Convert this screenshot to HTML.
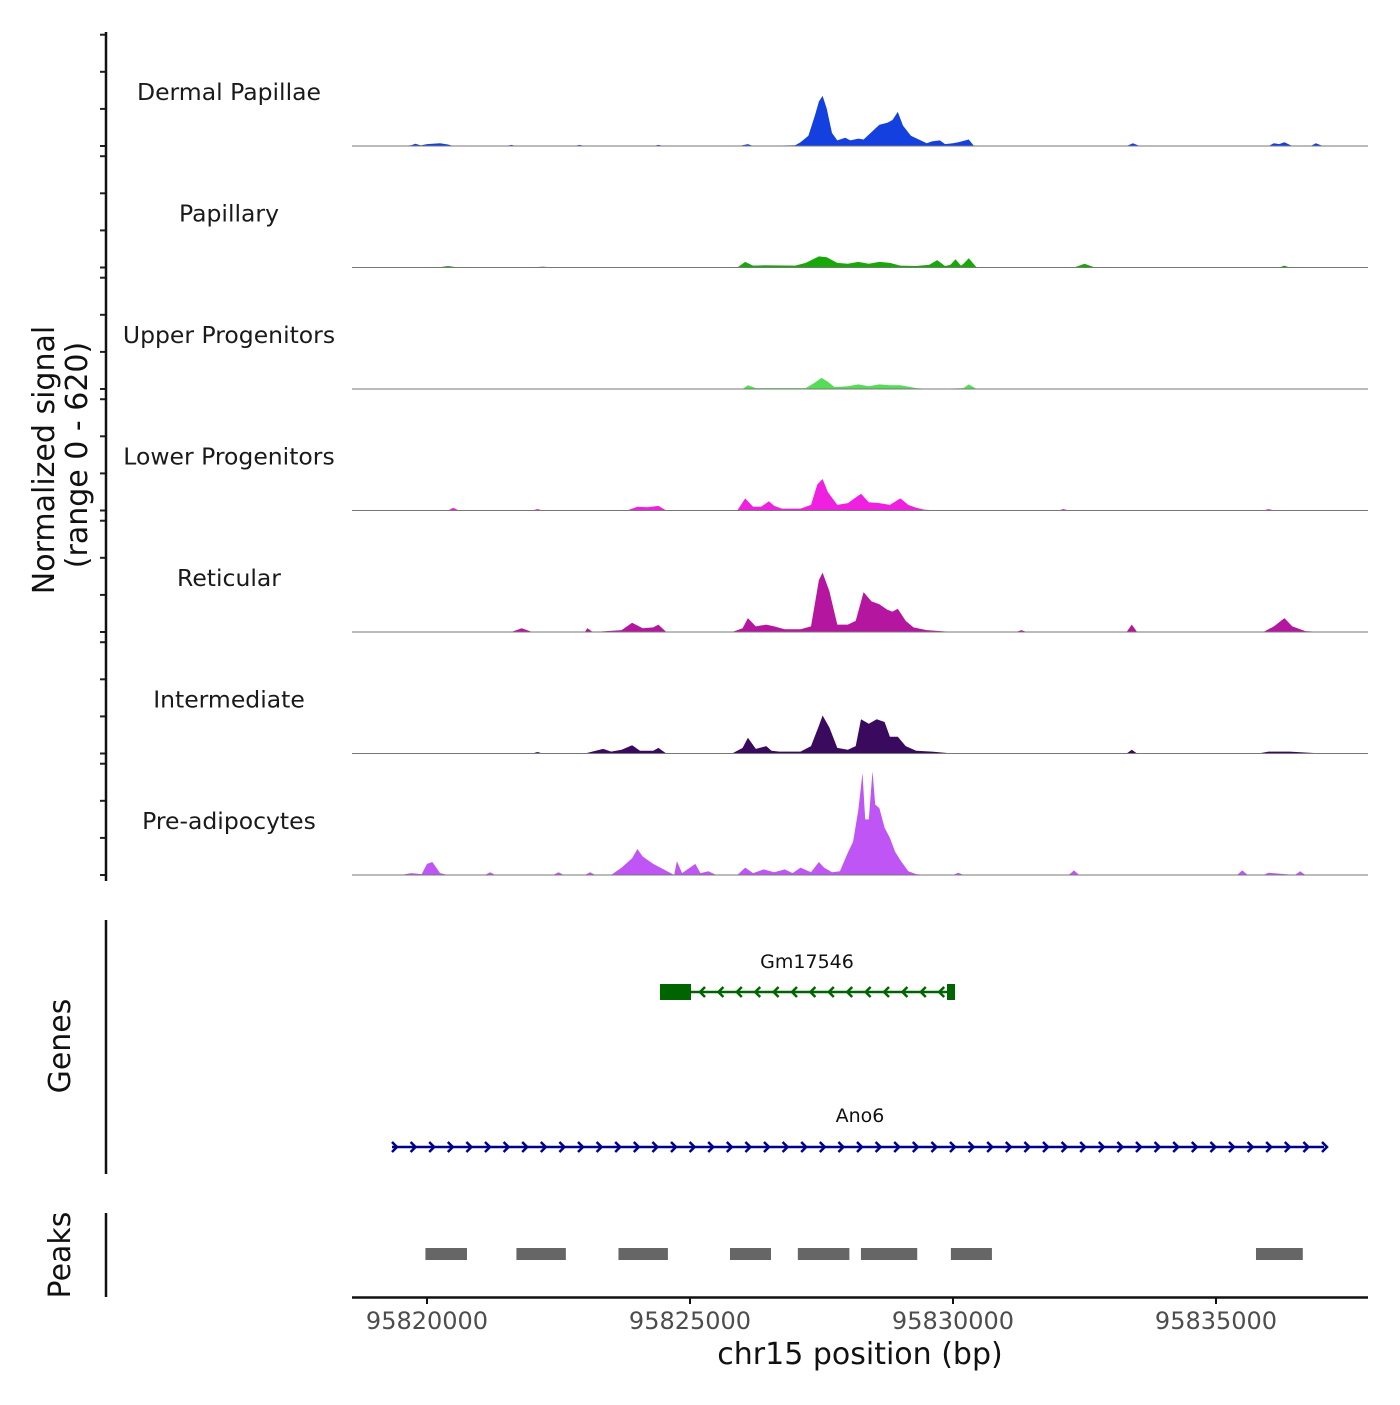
<!DOCTYPE html>
<html><head><meta charset="utf-8"><style>
body{margin:0;background:#fff}
svg text{font-family:"DejaVu Sans","Liberation Sans",sans-serif}
</style></head><body>
<svg id="chart" width="1400" height="1400" viewBox="0 0 1400 1400" xmlns="http://www.w3.org/2000/svg">
<g id="tracks"></g>
<g id="genes"></g>
<g id="peaks"></g>
<g id="axes"></g>
</svg>
<script>
const trackNames=["Dermal Papillae","Papillary","Upper Progenitors","Lower Progenitors","Reticular","Intermediate","Pre-adipocytes"];
const trackColors=["#1540e0","#18a80a","#55dd55","#f020e0","#b5169f","#3a0a5e","#c055f5"];
// positions in kb relative to 95820000, values = normalized signal
const dpPos=[-0.5,-0.3,-0.22,-0.12,0.0,0.1,0.25,0.4,0.5,1.5,1.6,1.7,2.8,2.9,3.0,4.3,4.4,4.5,5.9,6.0,6.1,6.2,7.0,7.1,7.25,7.38,7.45,7.52,7.6,7.7,7.8,7.95,8.05,8.2,8.3,8.45,8.6,8.75,8.85,8.95,9.05,9.2,9.35,9.5,9.6,9.75,9.85,10.0,10.1,10.3,10.4,13.3,13.42,13.55,16.0,16.1,16.2,16.3,16.45,16.8,16.9,17.03];
const dpVal=[0,4,12,3,10,12,15,8,0,0,6,0,0,6,0,0,6,0,0,4,10,0,4,20,55,170,240,270,200,70,30,45,30,40,35,75,115,125,140,184,110,55,35,15,25,30,10,15,20,35,0,0,15,0,0,15,10,20,0,0,15,0];
const paPos=[-0.5,0.2,0.4,0.6,2.0,2.2,2.4,5.9,6.05,6.2,6.4,7.0,7.2,7.45,7.6,7.8,8.0,8.2,8.4,8.6,8.8,9.0,9.3,9.55,9.7,9.85,9.95,10.05,10.15,10.2,10.3,10.45,11.0,12.3,12.5,12.7,16.2,16.3,16.4,17.03];
const paVal=[0,0,8,0,0,5,0,0,30,10,12,10,25,60,55,25,20,30,20,30,25,10,8,15,40,8,15,45,10,20,50,0,0,0,20,0,0,10,0,0];
const upPos=[-0.5,6.0,6.1,6.25,7.2,7.35,7.5,7.62,7.75,8.0,8.2,8.4,8.6,8.8,9.0,9.3,9.6,10.2,10.3,10.45,17.03];
const upVal=[0,0,20,5,5,30,60,40,10,15,25,15,25,20,20,5,0,5,25,0,0];
const lpPos=[-0.5,0.4,0.5,0.6,2.0,2.1,2.2,3.8,4.0,4.2,4.4,4.55,5.9,6.05,6.2,6.35,6.5,6.6,6.75,7.1,7.3,7.42,7.52,7.62,7.8,8.0,8.25,8.4,8.6,8.8,9.0,9.15,9.3,9.45,9.7,12.0,12.1,12.2,15.9,16.0,16.1,17.03];
const lpVal=[0,0,15,0,0,8,0,0,20,18,25,0,0,65,20,20,50,25,10,10,30,140,170,100,30,40,90,45,40,30,65,30,15,5,0,0,8,0,0,8,0,0];
const rePos=[-0.5,0.5,1.6,1.8,2.0,3.0,3.05,3.15,3.7,3.9,4.1,4.3,4.4,4.55,5.8,6.0,6.1,6.25,6.45,6.6,6.8,7.1,7.3,7.45,7.52,7.65,7.8,8.0,8.15,8.3,8.45,8.6,8.75,8.85,8.95,9.1,9.25,9.5,10.0,11.2,11.3,11.4,13.3,13.4,13.5,15.9,16.1,16.3,16.45,16.7,17.03];
const reVal=[0,0,0,20,0,0,20,0,10,50,20,25,40,0,0,20,75,30,40,30,15,15,30,280,320,220,40,40,60,215,165,150,120,110,125,60,25,10,0,0,10,0,0,40,0,0,30,75,30,5,0];
const inPos=[-0.5,1.5,2.0,2.1,2.2,3.0,3.35,3.5,3.7,3.9,4.05,4.3,4.4,4.55,5.8,6.0,6.1,6.25,6.45,6.55,6.7,7.1,7.3,7.45,7.52,7.65,7.8,8.0,8.15,8.25,8.4,8.55,8.7,8.8,8.95,9.1,9.3,9.6,10.0,13.3,13.4,13.5,15.8,16.0,16.4,17.03];
const inVal=[0,0,0,8,0,0,25,10,20,45,15,15,30,0,0,30,85,25,40,15,10,10,40,150,205,140,30,20,40,185,160,185,170,90,90,40,15,10,0,0,20,0,0,10,10,0];
const adPos=[-0.5,-0.3,-0.1,0.0,0.1,0.25,0.4,1.1,1.2,1.3,2.4,2.5,2.6,3.0,3.1,3.2,3.5,3.7,3.9,4.0,4.1,4.3,4.5,4.7,4.75,4.85,4.95,5.1,5.2,5.35,5.5,5.9,6.05,6.2,6.4,6.6,6.8,6.95,7.1,7.3,7.45,7.55,7.7,7.85,8.0,8.1,8.2,8.28,8.33,8.4,8.47,8.52,8.6,8.7,8.8,8.9,9.0,9.15,9.3,9.5,10.0,10.1,10.2,12.2,12.3,12.4,15.4,15.5,15.6,15.9,16.0,16.5,16.6,16.7,17.03];
const adVal=[0,10,5,60,70,10,0,0,15,0,0,15,0,0,15,0,0,40,90,140,100,60,30,0,75,10,30,60,10,20,0,0,40,10,30,15,30,10,40,15,70,40,15,20,120,180,350,550,300,300,560,380,360,255,200,125,80,20,5,0,0,12,0,0,25,0,0,25,0,0,12,0,20,0,0];
const trackPos=[dpPos,paPos,upPos,lpPos,rePos,inPos,adPos];
const trackVal=[dpVal,paVal,upVal,lpVal,reVal,inVal,adVal];
const yTickVals=[0,200,400,600];
const xTicks=[95820000,95825000,95830000,95835000];
const peakStarts=[95819970,95821700,95823640,95825760,95827050,95828250,95829960,95835760];
const peakEnds=[95820760,95822640,95824580,95826540,95828030,95829320,95830740,95836650];
const yMax=620;

const NS="http://www.w3.org/2000/svg";
function mk(tag,attrs,parent){const e=document.createElementNS(NS,tag);for(const k in attrs)e.setAttribute(k,attrs[k]);parent.appendChild(e);return e;}
const x=bp=>427+(bp-95820000)*263/5000;
const xk=kb=>x(95820000+kb*1000);
const baseTop=146, trackH=121.5, panelH=115;
const yv=(i,v)=>baseTop+i*trackH - v/yMax*panelH;

const gT=document.getElementById('tracks');
trackNames.forEach((name,i)=>{
  const b=baseTop+i*trackH;
  const P=trackPos[i],V=trackVal[i];
  let d=`M${xk(P[0])},${b}`;
  P.forEach((p,j)=>{d+=` L${xk(p).toFixed(1)},${yv(i,V[j]).toFixed(1)}`;});
  d+=` L${xk(P[P.length-1])},${b} Z`;
  const area=mk('path',{d:d,fill:trackColors[i]},gT);
  
  
  const bl=mk('line',{x1:352,x2:1368,y1:b,y2:b,stroke:'#777','stroke-width':1},gT);
  
  
  const t=mk('text',{x:229,y:b-46,'text-anchor':'middle','font-size':23.5,fill:'#1a1a1a'},gT);
  t.textContent=name;
  
  
  yTickVals.forEach(v=>{
    const tk=mk('line',{x1:100,x2:106,y1:yv(i,v),y2:yv(i,v),stroke:'#222','stroke-width':2},gT);
    
    
  });
});

const ax=document.getElementById('axes');
function line(a,name){const l=mk('line',a,ax);return l;}
line({x1:106,x2:106,y1:32,y2:881,stroke:'#111','stroke-width':2.5},'y-axis-line');
line({x1:106,x2:106,y1:920,y2:1174,stroke:'#111','stroke-width':2.5},'genes-axis-line');
line({x1:106,x2:106,y1:1213,y2:1297,stroke:'#111','stroke-width':2.5},'peaks-axis-line');
line({x1:352,x2:1368,y1:1297.5,y2:1297.5,stroke:'#111','stroke-width':2.5},'x-axis-line');
function txt(a,s,name){const t=mk('text',a,ax);t.textContent=s;return t;}
xTicks.forEach(v=>{
  line({x1:x(v),x2:x(v),y1:1297,y2:1304,stroke:'#111','stroke-width':2},'x-tick');
  txt({x:x(v),y:1329,'text-anchor':'middle','font-size':24,fill:'#4d4d4d'},String(v),'x-tick-label');
});
txt({x:860,y:1364,'text-anchor':'middle','font-size':30,fill:'#111'},'chr15 position (bp)','x-axis-title');
txt({x:0,y:0,'text-anchor':'middle','font-size':30,fill:'#111',transform:'translate(54,460) rotate(-90)'},'Normalized signal','y-axis-title');
txt({x:0,y:0,'text-anchor':'middle','font-size':30,fill:'#111',transform:'translate(87,455) rotate(-90)'},'(range 0 - 620)','y-axis-range');
txt({x:0,y:0,'text-anchor':'middle','font-size':30,fill:'#111',transform:'translate(70,1046) rotate(-90)'},'Genes','genes-axis-title');
txt({x:0,y:0,'text-anchor':'middle','font-size':30,fill:'#111',transform:'translate(70,1255) rotate(-90)'},'Peaks','peaks-axis-title');

const gG=document.getElementById('genes');
function g(tag,a,name){const e=mk(tag,a,gG);return e;}
g('text',{x:807,y:968,'text-anchor':'middle','font-size':19,fill:'#111'},'gene-label-gm17546').textContent='Gm17546';
g('line',{x1:660,x2:953,y1:992,y2:992,stroke:'#006400','stroke-width':2.5},'gene-gm17546-line');
g('rect',{x:660,y:984,width:31,height:16,fill:'#006400'},'gene-gm17546-exon');
g('rect',{x:947,y:984,width:8,height:16,fill:'#006400'},'gene-gm17546-exon');
for(let ax0=700;ax0<945;ax0+=18.4){g('path',{d:`M${ax0+5},987 L${ax0},992 L${ax0+5},997`,fill:'none',stroke:'#006400','stroke-width':2.5},'gene-strand-arrow');}
g('text',{x:860,y:1122,'text-anchor':'middle','font-size':19,fill:'#111'},'gene-label-ano6').textContent='Ano6';
g('line',{x1:392,x2:1324,y1:1147,y2:1147,stroke:'#00008b','stroke-width':2.5},'gene-ano6-line');
for(let ax0=397;ax0<1328;ax0+=18.6){g('path',{d:`M${ax0-5},1142 L${ax0},1147 L${ax0-5},1152`,fill:'none',stroke:'#00008b','stroke-width':2.5},'gene-strand-arrow');}

const gP=document.getElementById('peaks');
peakStarts.forEach((s,i)=>{
  const r=mk('rect',{x:x(s),y:1248,width:x(peakEnds[i])-x(s),height:12,fill:'#666'},gP);
  
  
});
</script>
</body></html>
